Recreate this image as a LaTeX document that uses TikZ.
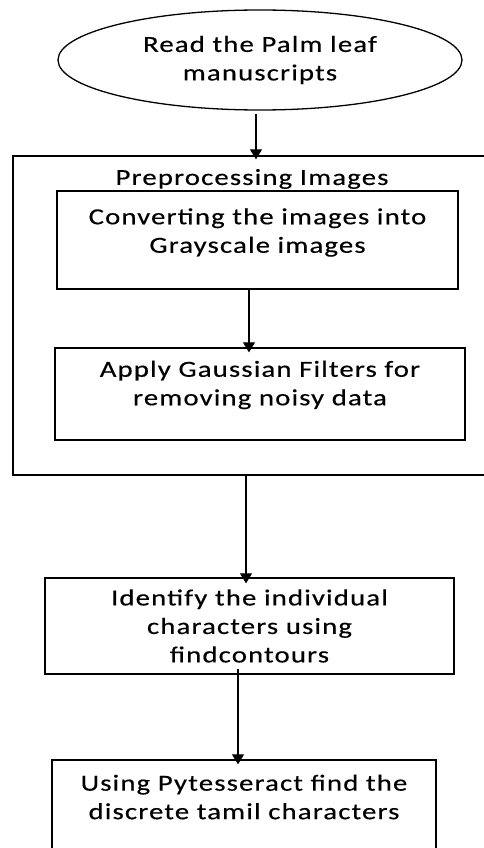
\documentclass[tikz,border=0pt]{standalone}
\usepackage{fontspec}
\setmainfont{Carlito}[FakeStretch=1.25,LetterSpace=5,FakeBold=0.4]
\usetikzlibrary{shapes.geometric,arrows.meta}

\tikzset{
  stepbox/.style={draw, line width=1.3pt, inner sep=0pt},
  steptext/.style={align=center, font=\fontsize{23}{28.5}\selectfont, inner sep=0pt},
  arr/.style={line width=1.1pt, -{Triangle[width=12pt,length=10pt]}}
}

\begin{document}
\begin{tikzpicture}[x=1pt,y=-1pt]
\useasboundingbox (0,0) rectangle (483,848);

% start
\node[stepbox, ellipse, minimum width=404, minimum height=100, steptext] (read) at (260,60)
  {Read the Palm leaf\\manuscripts};

% preprocessing group
\node[stepbox, minimum width=477, minimum height=319] (prep) at (251.5,315.5) {};
\node[steptext] (preptitle) at (252,179) {Preprocessing Images};

\node[stepbox, minimum width=401, minimum height=98] (gray) at (257.5,240) {};
\node[steptext] (graytext) at (257.5,232.5) {Converting the images into\\Grayscale images};

\node[stepbox, minimum width=410, minimum height=92] (gauss) at (260,394) {};
\node[steptext] (gausstext) at (260,385) {Apply Gaussian Filters for\\removing noisy data};

% after preprocessing
\node[stepbox, minimum width=409, minimum height=96, steptext] (ident) at (249.5,626)
  {Identify the individual\\characters using\\findcontours};

\node[stepbox, minimum width=384, minimum height=100] (tess) at (244,810) {};
\node[steptext] (tesstext) at (244,797) {Using Pytesseract find the\\discrete tamil characters};

% arrows
\draw[arr] ([xshift=-4,yshift=-3]read.south) -- ([xshift=4.5,yshift=-4]prep.north);
\draw[arr] ([xshift=-8.5]gray.south) -- ([xshift=-11,yshift=-5]gauss.north);
\draw[arr] ([xshift=-5.5]prep.south) -- ([xshift=-3.5,yshift=-6]ident.north);
\draw[arr] ([xshift=-11.5,yshift=6]ident.south) -- ([xshift=-6,yshift=-5]tess.north);

\end{tikzpicture}
\end{document}
